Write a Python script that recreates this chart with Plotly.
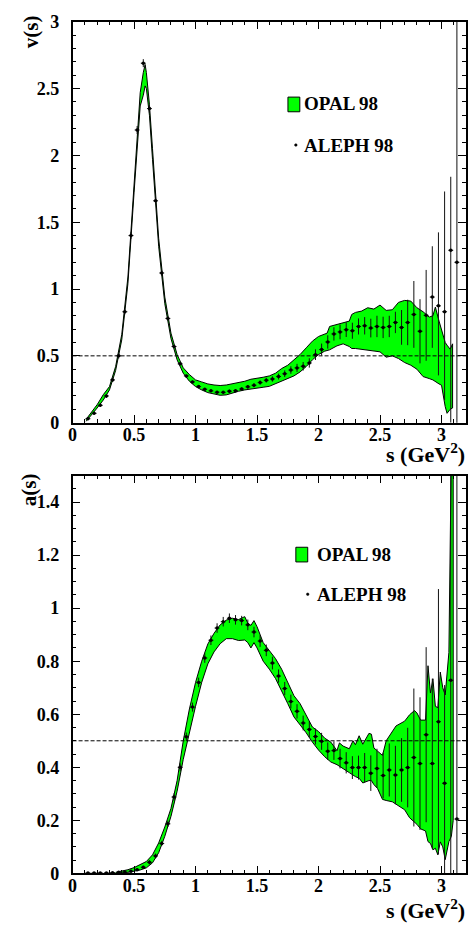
import plotly.graph_objects as go

W, H = 468, 935

# ---------------- data: top panel v(s) ----------------
aleph_s = [0.125, 0.175, 0.225, 0.275, 0.325, 0.375, 0.425, 0.475, 0.525, 0.575,
           0.625, 0.675, 0.725, 0.775, 0.825, 0.875, 0.925, 0.975, 1.025, 1.075,
           1.125, 1.175, 1.225, 1.275, 1.325, 1.375, 1.425, 1.475, 1.525, 1.575,
           1.625, 1.675, 1.725, 1.775, 1.825, 1.875, 1.925, 1.975, 2.025, 2.075,
           2.125, 2.175, 2.225, 2.275, 2.325, 2.375, 2.425, 2.475, 2.525, 2.575,
           2.625, 2.675, 2.725, 2.775, 2.825, 2.875, 2.925, 2.975, 3.025, 3.075, 3.125]

aleph_v = [0.03, 0.07, 0.13, 0.20, 0.32, 0.50, 0.83, 1.40, 2.19, 2.69,
           2.35, 1.66, 1.12, 0.78, 0.57, 0.44, 0.35, 0.305, 0.27, 0.25,
           0.238, 0.228, 0.227, 0.236, 0.239, 0.252, 0.268, 0.28, 0.30, 0.318,
           0.327, 0.345, 0.366, 0.394, 0.41, 0.422, 0.447, 0.509, 0.547, 0.604,
           0.664, 0.679, 0.696, 0.688, 0.72, 0.725, 0.708, 0.72, 0.713, 0.72,
           0.75, 0.713, 0.75, 0.81, 0.684, 0.803, 0.94, 0.874, 0.83, 1.29, 1.2]

aleph_v_err_up = [0.01, 0.01, 0.012, 0.015, 0.015, 0.02, 0.02, 0.025, 0.03, 0.03,
                  0.03, 0.025, 0.02, 0.015, 0.012, 0.01, 0.01, 0.01, 0.01, 0.01,
                  0.01, 0.01, 0.01, 0.012, 0.012, 0.012, 0.014, 0.015, 0.016, 0.018,
                  0.02, 0.022, 0.025, 0.028, 0.03, 0.032, 0.035, 0.04, 0.045, 0.05,
                  0.05, 0.055, 0.055, 0.06, 0.06, 0.065, 0.07, 0.08, 0.08, 0.08,
                  0.08, 0.13, 0.17, 0.25, 0.24, 0.34, 0.38, 0.55, 0.9, 0.55, 3.0]
aleph_v_err_dn = [0.01, 0.01, 0.012, 0.015, 0.015, 0.02, 0.02, 0.025, 0.03, 0.03,
                  0.03, 0.025, 0.02, 0.015, 0.012, 0.01, 0.01, 0.01, 0.01, 0.01,
                  0.01, 0.01, 0.01, 0.012, 0.012, 0.012, 0.014, 0.015, 0.016, 0.018,
                  0.02, 0.022, 0.025, 0.028, 0.03, 0.032, 0.035, 0.04, 0.045, 0.05,
                  0.05, 0.055, 0.055, 0.06, 0.06, 0.065, 0.07, 0.08, 0.08, 0.08,
                  0.08, 0.13, 0.17, 0.25, 0.24, 0.34, 0.38, 0.52, 0.66, 1.29, 3.0]

opal_v_s = [0.11, 0.15, 0.2, 0.25, 0.3, 0.35, 0.4, 0.45, 0.5, 0.55, 0.575, 0.59,
            0.6, 0.625, 0.65, 0.7, 0.75, 0.8, 0.85, 0.9, 0.95, 1.0, 1.05, 1.1,
            1.15, 1.2, 1.25, 1.3, 1.35, 1.4, 1.45, 1.5, 1.55, 1.6, 1.65, 1.7,
            1.75, 1.8, 1.85, 1.9, 1.95, 2.0, 2.05, 2.07, 2.09, 2.15, 2.2, 2.25,
            2.27, 2.3, 2.35, 2.4, 2.45, 2.5, 2.55, 2.6, 2.65, 2.7, 2.75, 2.8,
            2.85, 2.9, 2.93, 2.95, 2.98, 3.0, 3.03, 3.045, 3.07, 3.09]
opal_v_hi = [0.025, 0.075, 0.135, 0.21, 0.27, 0.42, 0.66, 1.09, 1.80, 2.47, 2.62, 2.68,
             2.62, 2.38, 2.05, 1.38, 0.94, 0.67, 0.51, 0.41, 0.36, 0.32, 0.305, 0.29,
             0.282, 0.278, 0.282, 0.29, 0.30, 0.31, 0.325, 0.33, 0.34, 0.35, 0.37, 0.405,
             0.43, 0.47, 0.51, 0.56, 0.61, 0.645, 0.66, 0.67, 0.72, 0.735, 0.75, 0.76,
             0.81, 0.825, 0.835, 0.86, 0.85, 0.88, 0.84, 0.845, 0.90, 0.915, 0.91, 0.86,
             0.83, 0.79, 0.80, 0.865, 0.76, 0.70, 0.60, 0.58, 0.55, 0.59]
opal_v_lo = [0.01, 0.055, 0.11, 0.17, 0.245, 0.39, 0.62, 1.04, 1.72, 2.37, 2.45, 2.52,
             2.50, 2.30, 1.97, 1.32, 0.89, 0.63, 0.47, 0.37, 0.31, 0.27, 0.245, 0.225,
             0.215, 0.205, 0.208, 0.22, 0.235, 0.245, 0.255, 0.26, 0.265, 0.272, 0.29, 0.315,
             0.33, 0.35, 0.38, 0.42, 0.47, 0.51, 0.535, 0.54, 0.545, 0.575, 0.59, 0.57,
             0.555, 0.555, 0.55, 0.54, 0.537, 0.53, 0.49, 0.50, 0.48, 0.45, 0.43, 0.40,
             0.345, 0.33, 0.32, 0.31, 0.29, 0.28, 0.12, 0.07, 0.10, 0.11]

# ---------------- data: bottom panel a(s) ----------------
aleph_a = [0.002, 0.002, 0.002, 0.002, 0.003, 0.004, 0.005, 0.008, 0.014, 0.023,
           0.042, 0.066, 0.113, 0.187, 0.288, 0.40, 0.515, 0.627, 0.72, 0.812,
           0.879, 0.925, 0.949, 0.962, 0.956, 0.953, 0.937, 0.91, 0.876, 0.841,
           0.793, 0.744, 0.697, 0.648, 0.611, 0.567, 0.543, 0.516, 0.498, 0.461,
           0.463, 0.433, 0.417, 0.399, 0.399, 0.399, 0.378, 0.396, 0.369, 0.39,
           0.371, 0.39, 0.399, 0.437, 0.414, 0.523, 0.414, 0.572, 0.34, 0.728, 0.205]
aleph_a_err = [0.002, 0.002, 0.002, 0.002, 0.002, 0.003, 0.003, 0.004, 0.005, 0.006,
               0.008, 0.009, 0.01, 0.012, 0.014, 0.015, 0.016, 0.017, 0.018, 0.018,
               0.018, 0.018, 0.018, 0.018, 0.018, 0.018, 0.02, 0.02, 0.022, 0.022,
               0.024, 0.025, 0.025, 0.026, 0.027, 0.028, 0.03, 0.03, 0.032, 0.033,
               0.035, 0.037, 0.04, 0.043, 0.045, 0.055, 0.067, 0.074, 0.086, 0.1,
               0.11, 0.12, 0.15, 0.26, 0.25, 0.33, 0.32, 0.5, 0.37, 1.5, 2.0]

opal_a_s = [0.35, 0.4, 0.45, 0.5, 0.55, 0.6, 0.65, 0.7, 0.75, 0.8, 0.85, 0.9,
            0.95, 1.0, 1.05, 1.1, 1.15, 1.2, 1.25, 1.3, 1.35, 1.4, 1.425, 1.45,
            1.475, 1.5, 1.55, 1.6, 1.65, 1.7, 1.75, 1.8, 1.85, 1.9, 1.95, 2.0,
            2.05, 2.1, 2.15, 2.17, 2.2, 2.25, 2.28, 2.3, 2.33, 2.36, 2.41, 2.43,
            2.45, 2.48, 2.52, 2.55, 2.6, 2.63, 2.7, 2.74, 2.78, 2.8, 2.83, 2.87,
            2.89, 2.91, 2.93, 2.95, 2.97, 2.99, 3.01, 3.03, 3.06, 3.08, 3.095]
opal_a_hi = [0.004, 0.008, 0.014, 0.022, 0.032, 0.045, 0.07, 0.115, 0.175, 0.245, 0.35, 0.50,
             0.62, 0.72, 0.80, 0.865, 0.905, 0.937, 0.955, 0.962, 0.957, 0.968, 0.943, 0.935,
             0.953, 0.93, 0.87, 0.84, 0.81, 0.77, 0.72, 0.67, 0.64, 0.595, 0.552, 0.535,
             0.51, 0.495, 0.463, 0.492, 0.48, 0.47, 0.50, 0.485, 0.519, 0.487, 0.528, 0.525,
             0.473, 0.461, 0.445, 0.50, 0.537, 0.556, 0.574, 0.598, 0.614, 0.605, 0.578, 0.578,
             0.783, 0.68, 0.734, 0.63, 0.625, 0.759, 0.70, 0.673, 0.833, 1.6, 1.6]
opal_a_lo = [0.0, 0.002, 0.004, 0.008, 0.013, 0.021, 0.04, 0.078, 0.14, 0.215, 0.31, 0.43,
             0.53, 0.63, 0.72, 0.79, 0.835, 0.866, 0.885, 0.885, 0.878, 0.88, 0.87, 0.85,
             0.87, 0.85, 0.80, 0.77, 0.735, 0.69, 0.64, 0.59, 0.56, 0.53, 0.495, 0.465,
             0.44, 0.42, 0.41, 0.405, 0.395, 0.38, 0.372, 0.365, 0.359, 0.341, 0.35, 0.35,
             0.335, 0.32, 0.279, 0.275, 0.27, 0.26, 0.24, 0.21, 0.193, 0.185, 0.168, 0.16,
             0.12, 0.113, 0.089, 0.095, 0.07, 0.119, 0.10, 0.052, 0.12, 0.14, 0.2]

# tick labels
x_ticks = [0, 0.5, 1, 1.5, 2, 2.5, 3]
x_ticklabels = ["0", "0.5", "1", "1.5", "2", "2.5", "3"]
v_ticks = [0, 0.5, 1, 1.5, 2, 2.5, 3]
v_ticklabels = ["0", "0.5", "1", "1.5", "2", "2.5", "3"]
a_ticks = [0, 0.2, 0.4, 0.6, 0.8, 1.0, 1.2, 1.4]
a_ticklabels = ["0", "0.2", "0.4", "0.6", "0.8", "1", "1.2", "1.4"]

# ---------------- geometry (pixels) ----------------
X_L, X_R = 68.3, 466.1
TOP_T, TOP_B = 12.0, 421.7
BOT_T, BOT_B = 475.7, 882.3

def fx(px):
    return px / W

def fy(py):
    return 1 - py / H

GREEN = "#00ff00"
FONT = "Liberation Serif"

def b(t):
    return "<b>" + t + "</b>"

fig = go.Figure()

def band(xs, hi, lo, xa, ya):
    fig.add_trace(go.Scatter(
        x=list(xs) + list(xs[::-1]), y=list(hi) + list(lo[::-1]),
        mode="lines", fill="toself", fillcolor=GREEN,
        line=dict(color="black", width=1), xaxis=xa, yaxis=ya,
        hoverinfo="skip", showlegend=False))

def points(xs, ys, err_up, err_dn, xa, ya):
    fig.add_trace(go.Scatter(
        x=xs, y=ys, mode="markers",
        marker=dict(color="black", size=3.5),
        error_y=dict(type="data", array=err_up, arrayminus=err_dn, symmetric=False,
                     color="#111", thickness=1, width=0),
        error_x=dict(type="constant", value=0.02, color="#111", thickness=1, width=0),
        xaxis=xa, yaxis=ya, showlegend=False))

band(opal_v_s, opal_v_hi, opal_v_lo, "x", "y")
points(aleph_s, aleph_v, aleph_v_err_up, aleph_v_err_dn, "x", "y")
band(opal_a_s, opal_a_hi, opal_a_lo, "x2", "y2")
points(aleph_s, aleph_a, aleph_a_err, aleph_a_err, "x2", "y2")

tickfont = dict(family=FONT, size=18, color="black")

def xax(anchor, dom):
    return dict(domain=dom, range=[0, 3.2], anchor=anchor, showline=True,
                linecolor="black", linewidth=1.5, mirror="allticks",
                ticks="inside", ticklen=8, tickwidth=1.2, tickcolor="black",
                tickmode="array", tickvals=x_ticks, ticktext=[b(t) for t in x_ticklabels],
                showgrid=False, zeroline=False,
                tickfont=tickfont, ticklabelstandoff=-5,
                minor=dict(ticks="inside", tickmode="linear", tick0=0, dtick=0.1,
                           ticklen=4, tickwidth=1, tickcolor="black"))

def yax(anchor, dom, rng, tv, tt, mdt):
    return dict(domain=dom, range=rng, anchor=anchor, showline=True,
                linecolor="black", linewidth=1.5, mirror="allticks",
                ticks="inside", ticklen=8, tickwidth=1.2, tickcolor="black",
                tickmode="array", tickvals=tv, ticktext=[b(t) for t in tt],
                showgrid=False, zeroline=False,
                tickfont=tickfont, ticklabelstandoff=8,
                minor=dict(ticks="inside", tickmode="linear", tick0=0, dtick=mdt,
                           ticklen=4, tickwidth=1, tickcolor="black"))

fig.update_layout(
    width=W, height=H, margin=dict(l=0, r=0, t=0, b=0),
    paper_bgcolor="white", plot_bgcolor="white", showlegend=False,
    xaxis=xax("y", [fx(X_L), fx(X_R)]),
    yaxis=yax("x", [fy(TOP_B), fy(TOP_T)], [0, 3], v_ticks, v_ticklabels, 0.1),
    xaxis2=xax("y2", [fx(X_L), fx(X_R)]),
    yaxis2=yax("x2", [fy(BOT_B), fy(BOT_T)], [0, 1.5], a_ticks, a_ticklabels, 0.05),
)

# dashed reference lines at 0.5
for xr, yr in (("x", "y"), ("x2", "y2")):
    fig.add_shape(type="line", xref=xr, yref=yr, x0=0, x1=3.2, y0=0.5, y1=0.5,
                  line=dict(color="black", width=1, dash="4px,2px"), layer="above")

titlefont = dict(family=FONT, size=21, color="black")
legfont = dict(family=FONT, size=19, color="black")
sfont = dict(family=FONT, size=22, color="black")

anns = [
    dict(text=b("v(s)"), x=fx(26), y=fy(22), textangle=-90, font=titlefont),
    dict(text=b("a(s)"), x=fx(24), y=fy(490), textangle=-90, font=titlefont),
    dict(text=b("s (GeV<sup>2</sup>)"), x=fx(467), y=fy(453), xanchor="right", font=sfont),
    dict(text=b("s (GeV<sup>2</sup>)"), x=fx(467), y=fy(919), xanchor="right", font=sfont),
]

# legends
legends = [
    # (box left, box top, text x, opal y, aleph y, dot x)
    (286, 89, 300, 96, 138, 294),
    (294, 549, 313, 556, 597, 306),
]
for bx, by, tx, oy, ay, dx in legends:
    fig.add_shape(type="rect", xref="paper", yref="paper",
                  x0=fx(bx), x1=fx(bx + 12), y0=fy(by), y1=fy(by + 15),
                  fillcolor=GREEN, line=dict(color="black", width=1))
    fig.add_shape(type="circle", xref="paper", yref="paper",
                  x0=fx(dx - 1.3), x1=fx(dx + 1.3), y0=fy(ay - 1.3), y1=fy(ay + 1.3),
                  fillcolor="black", line=dict(color="black", width=0.5))
    anns.append(dict(text=b("OPAL 98"), x=fx(tx), y=fy(oy), xanchor="left", font=legfont))
    anns.append(dict(text=b("ALEPH 98"), x=fx(tx), y=fy(ay), xanchor="left", font=legfont))

for a in anns:
    a.setdefault("xanchor", "center")
    fig.add_annotation(xref="paper", yref="paper", showarrow=False, yanchor="middle", **a)

fig.write_html("out.html")
